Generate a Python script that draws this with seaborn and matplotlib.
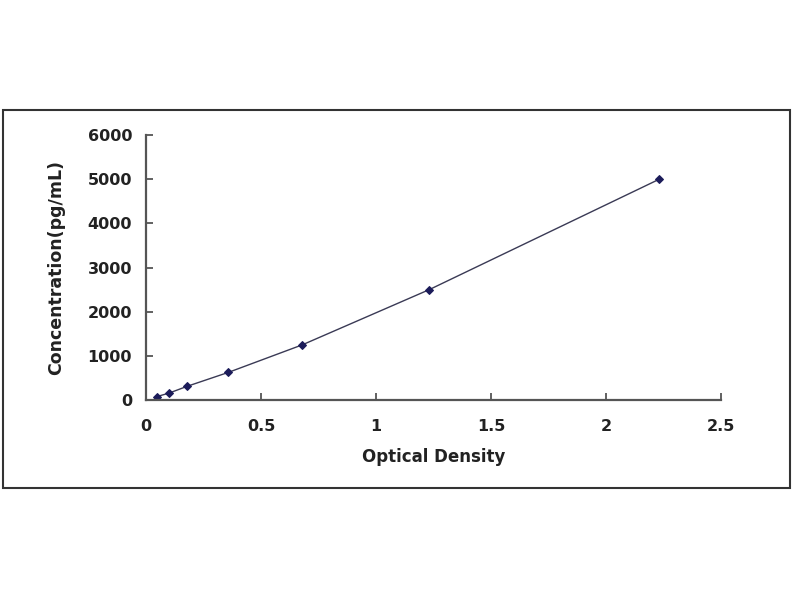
import matplotlib
matplotlib.use("Agg")
import matplotlib.pyplot as plt
import seaborn as sns
import pandas as pd
from matplotlib.patches import Rectangle

od = [0.048, 0.10, 0.18, 0.358, 0.68, 1.232, 2.232]
conc = [78, 156, 312, 625, 1250, 2500, 5000]
x_ticks = [0, 0.5, 1, 1.5, 2, 2.5]
x_tick_labels = ["0", "0.5", "1", "1.5", "2", "2.5"]
y_ticks = [0, 1000, 2000, 3000, 4000, 5000, 6000]
y_tick_labels = ["0", "1000", "2000", "3000", "4000", "5000", "6000"]

sns.set_theme(style="white")
plt.rcParams['font.family'] = ['DejaVu Sans']

df = pd.DataFrame({"od": od, "conc": conc})

fig = plt.figure(figsize=(8, 6), dpi=100)
fig.patch.set_facecolor("white")
ax = fig.add_axes([146/800, 1-400/600, 575/800, 265/600])

sns.lineplot(data=df, x="od", y="conc", ax=ax, color="#3a3a55", linewidth=1.0,
             marker="D", markersize=4, markerfacecolor="#1c1c5a",
             markeredgecolor="#1c1c5a")

ax.set_xlim(0, 2.5)
ax.set_ylim(0, 6000)
ax.set_xticks(x_ticks)
ax.set_xticklabels(x_tick_labels)
ax.set_yticks(y_ticks)
ax.set_yticklabels(y_tick_labels)

for s in ["top", "right"]:
    ax.spines[s].set_visible(False)
for s in ["left", "bottom"]:
    ax.spines[s].set_color("#555555")
    ax.spines[s].set_linewidth(1.6)

ax.tick_params(axis="both", direction="in", length=5, width=1.3, color="#555555",
               labelsize=11.5, labelcolor="#222222", bottom=True, left=True)
ax.tick_params(axis="x", pad=14)
ax.tick_params(axis="y", pad=10)
for lab in ax.get_xticklabels() + ax.get_yticklabels():
    lab.set_fontweight("bold")

ax.set_xlabel("Optical Density", fontsize=12, fontweight="bold", color="#222222", labelpad=10)
ax.set_ylabel("Concentration(pg/mL)", fontsize=12.5, fontweight="bold", color="#222222", labelpad=16)
ax.grid(False)

fig.add_artist(Rectangle((3/800, 1-488/600), 787/800, 378/600, transform=fig.transFigure,
                         fill=False, edgecolor="#333333", linewidth=1.5))

fig.savefig("out.png", dpi=100, facecolor="white")
